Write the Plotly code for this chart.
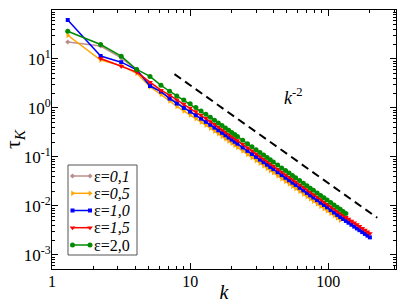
import plotly.graph_objects as go

k = [1.3, 2.25, 3.17, 4.1, 5.12, 6.15, 7.1, 8, 9, 10, 11, 12, 13, 14, 15, 16, 17, 18, 19, 20,
     21, 22, 24, 26, 28, 30, 32, 34, 36, 38, 40, 43, 46, 49, 52, 55, 58, 62, 66, 70, 74, 78,
     83, 88, 93, 98, 104, 110, 116, 122, 128, 134, 140, 147, 154, 161, 168, 176, 184, 192, 200]

tau_01 = [22.2, 18.4, 10.5, 6.0, 3.0, 2.1, 1.6, 1.3, 1.05, 0.85, 0.7, 0.585, 0.495, 0.425, 0.369,
          0.324, 0.287, 0.256, 0.23, 0.2075, 0.188, 0.1715, 0.144, 0.123, 0.106, 0.0922, 0.081,
          0.0718, 0.064, 0.0575, 0.0519, 0.0449, 0.0392, 0.0346, 0.0307, 0.0274, 0.0247, 0.0216,
          0.0191, 0.0169, 0.0152, 0.0136, 0.012, 0.0107, 0.0096, 0.00864]

tau_05 = [30.5, 9.5, 7.3, 5.1, 2.7, 1.9, 1.39, 1.07, 0.87, 0.72, 0.605, 0.515, 0.443, 0.385, 0.337,
          0.297, 0.263, 0.235, 0.211, 0.19, 0.172, 0.157, 0.132, 0.1124, 0.097, 0.0844, 0.0742,
          0.0657, 0.0586, 0.0526, 0.0475, 0.0411, 0.0359, 0.0317, 0.0281, 0.0251, 0.0226, 0.0198,
          0.0174, 0.0155, 0.0139, 0.0125, 0.011, 0.0098, 0.0088, 0.0079, 0.00703, 0.00628,
          0.00565, 0.0051]

tau_10 = [62.5, 11.5, 8.6, 6.0, 2.8, 2.16, 1.55, 1.23, 1.0, 0.84, 0.71, 0.605, 0.52, 0.452, 0.396,
          0.349, 0.31, 0.277, 0.249, 0.225, 0.204, 0.186, 0.156, 0.133, 0.1148, 0.1, 0.0879,
          0.0779, 0.0694, 0.0623, 0.0563, 0.0487, 0.0425, 0.0375, 0.0333, 0.0298, 0.0268, 0.0234,
          0.0207, 0.0184, 0.0164, 0.0148, 0.0131, 0.0116, 0.0104, 0.00937, 0.0082, 0.0073,
          0.00652, 0.0059, 0.00538, 0.00492, 0.00452, 0.00411, 0.00376, 0.00345, 0.00318,
          0.00291, 0.00267, 0.00246, 0.00227]

tau_15 = [None, 10.2, 7.1, 5.4, 3.35, 2.3, 1.82, 1.46, 1.2, 1.0, 0.845, 0.715, 0.612, 0.53, 0.462,
          0.406, 0.36, 0.321, 0.288, 0.26, 0.236, 0.215, 0.181, 0.154, 0.133, 0.1156, 0.1016,
          0.09, 0.0802, 0.072, 0.065, 0.0562, 0.0491, 0.0433, 0.0385, 0.0344, 0.0309, 0.0271,
          0.0239, 0.0212, 0.019, 0.0171, 0.0151, 0.0134, 0.012, 0.0108, 0.0096, 0.0086, 0.0077,
          0.00699, 0.0064, 0.00586, 0.0054, 0.00492, 0.00451, 0.00414, 0.00382, 0.00349,
          0.0032, 0.00294, 0.00272]

tau_20 = [36.7, 19.7, 11.4, 6.1, 4.4, 2.9, 2.19, 1.76, 1.45, 1.21, 1.02, 0.87, 0.745, 0.643, 0.56,
          0.492, 0.436, 0.389, 0.349, 0.315, 0.286, 0.26, 0.219, 0.186, 0.161, 0.14, 0.123,
          0.109, 0.0972, 0.0873, 0.0788, 0.0682, 0.0595, 0.0525, 0.0466, 0.0417, 0.0375, 0.0328,
          0.0289, 0.0257, 0.023, 0.0207, 0.0183, 0.0163, 0.0146, 0.0131, 0.01165, 0.0104,
          0.00936, 0.00847, 0.0077, 0.007]

guide_k = [7.7, 226]
guide_y = [4.9, 0.0057]

x_ticks = [1, 10, 100]
x_labels = ["1", "10", "100"]
y_ticks = [1e-3, 1e-2, 1e-1, 1, 10, 100]
y_labels = ["10<sup>-3</sup>", "10<sup>-2</sup>", "10<sup>-1</sup>",
            "10<sup>0</sup>", "10<sup>1</sup>", "10<sup>2</sup>"]

legend_labels = ["ε=<i>0,1</i>", "ε=<i>0,5</i>", "ε=<i>1,0</i>", "ε=<i>1,5</i>", "ε=2,0"]

series = [
    (tau_01, "rgb(188,143,143)", "diamond", 4),
    (tau_05, "rgb(255,165,0)", "triangle-right", 5),
    (tau_10, "rgb(0,0,255)", "square", 4),
    (tau_15, "rgb(255,0,0)", "triangle-down", 5),
    (tau_20, "rgb(0,139,0)", "circle", 5),
]

SERIF = "Liberation Serif, Times New Roman, serif"

# plot-area geometry in pixels (used for the overlay legend axis)
L, R, T, B = 52, 396, 10, 269

fig = go.Figure()
for (ys, col, sym, sz) in series:
    fig.add_trace(go.Scatter(
        x=k[:len(ys)], y=ys, mode="lines+markers", showlegend=False,
        line=dict(color=col, width=1.5),
        marker=dict(symbol=sym, size=sz, color=col, line=dict(width=0)),
    ))

fig.add_trace(go.Scatter(
    x=guide_k, y=guide_y, mode="lines", showlegend=False,
    line=dict(color="black", width=2, dash="8px,5px"),
))

fig.add_annotation(
    x=1.745, y=0.24, xref="x", yref="y", showarrow=False,
    text="<i>k</i><sup>-2</sup>", font=dict(family=SERIF, size=18, color="black"),
)

# custom legend on a pixel-space overlay axis
leg_x0, leg_x1 = 68, 137
leg_y0, leg_y1 = 165, 255
row_y = [176, 193.3, 210.5, 227.7, 245]
sym_x = [72.5, 90]
text_x = 92

fig.add_shape(type="rect", xref="x2", yref="y2", x0=leg_x0, x1=leg_x1, y0=leg_y0, y1=leg_y1,
              line=dict(color="#555", width=1), fillcolor="white", layer="below")
for (ys, col, sym, sz), lab, ry in zip(series, legend_labels, row_y):
    fig.add_trace(go.Scatter(
        x=sym_x, y=[ry, ry], xaxis="x2", yaxis="y2", mode="lines+markers", showlegend=False,
        line=dict(color=col, width=1.5),
        marker=dict(symbol=sym, size=sz, color=col, line=dict(width=0)),
    ))
    fig.add_annotation(
        x=text_x, y=ry, xref="x2", yref="y2", showarrow=False, xanchor="left", yanchor="middle",
        text=lab, font=dict(family=SERIF, size=16, color="black"),
    )

axis_common = dict(
    type="log", showgrid=False, zeroline=False,
    showline=True, linecolor="black", linewidth=1, mirror="allticks",
    ticks="inside", ticklen=6, tickwidth=1, tickcolor="black",
    minor=dict(ticks="inside", ticklen=3, tickwidth=1, tickcolor="black",
               dtick="D1", showgrid=False),
)

fig.update_layout(
    xaxis=dict(**axis_common, range=[0, 2.49], tickvals=x_ticks, ticktext=x_labels,
               ticklabelstandoff=-2,
               tickfont=dict(family=SERIF, size=16, color="black"),
               title=dict(text="<i>k</i>", font=dict(family=SERIF, size=20, color="black"),
                          standoff=0)),
    yaxis=dict(**axis_common, range=[-3.29, 2], tickvals=y_ticks, ticktext=y_labels,
               ticklabelstandoff=-3,
               tickfont=dict(family=SERIF, size=17, color="black"),
               title=dict(text="τ<sub><i>K</i></sub>",
                          font=dict(family=SERIF, size=22, color="black"), standoff=2)),
    xaxis2=dict(overlaying="x", range=[L, R], visible=False, fixedrange=True),
    yaxis2=dict(overlaying="y", range=[B, T], visible=False, fixedrange=True),
    width=399, height=303,
    margin=dict(l=L, r=399 - R, t=T, b=303 - B, autoexpand=False),
    paper_bgcolor="white", plot_bgcolor="white",
    showlegend=False,
)

fig.write_html("out.html", config={"displayModeBar": False},
               post_script="document.body.style.margin='0';")
